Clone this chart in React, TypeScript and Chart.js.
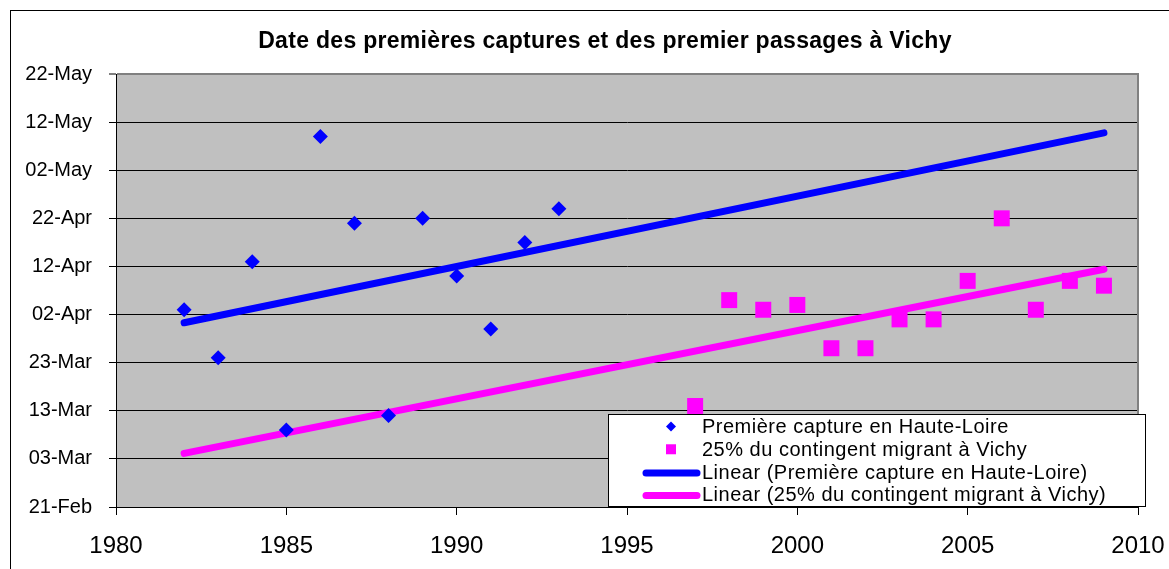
import React, { useEffect, useRef } from 'react';
import { Chart, registerables } from 'chart.js';

Chart.register(...registerables);

// ---- Data (y values = day of year, non-leap year: 52 = 21-Feb) ----
const TITLE = 'Date des premières captures et des premier passages à Vichy';
const seriesNames = ['Première capture en Haute-Loire', '25% du contingent migrant à Vichy'];

const captureYears = [1982, 1983, 1984, 1985, 1986, 1987, 1988, 1989, 1990, 1991, 1992, 1993];
const captureDays = [93, 83, 103, 68, 129, 111, 71, 112, 100, 89, 107, 114];

const vichyYears = [1997, 1998, 1999, 2000, 2001, 2002, 2003, 2004, 2005, 2006, 2007, 2008, 2009];
const vichyDays = [73, 95, 93, 94, 85, 85, 91, 91, 99, 112, 93, 99, 98];

const yTickDays = [52, 62, 72, 82, 92, 102, 112, 122, 132, 142];
const yTickLabels = ['21-Feb', '03-Mar', '13-Mar', '23-Mar', '02-Apr', '12-Apr', '22-Apr', '02-May', '12-May', '22-May'];
const xTickYears = [1980, 1985, 1990, 1995, 2000, 2005, 2010];

// ---- Styles ----
const BLUE = '#0000FF';
const PINK = '#FF00FF';
const FONT = '"Liberation Sans", Arial, sans-serif';

function linearFit(xs: number[], ys: number[]) {
  const n = xs.length;
  const mx = xs.reduce((a, b) => a + b, 0) / n;
  const my = ys.reduce((a, b) => a + b, 0) / n;
  let sxy = 0;
  let sxx = 0;
  for (let i = 0; i < n; i++) {
    sxy += (xs[i] - mx) * (ys[i] - my);
    sxx += (xs[i] - mx) * (xs[i] - mx);
  }
  const slope = sxy / sxx;
  const intercept = my - slope * mx;
  return (x: number) => intercept + slope * x;
}

export default function App() {
  const canvasRef = useRef<HTMLCanvasElement | null>(null);

  useEffect(() => {
    const canvas = canvasRef.current;
    if (!canvas) return;

    const allYears = [...captureYears, ...vichyYears];
    const trendX0 = Math.min(...allYears);
    const trendX1 = Math.max(...allYears);
    const fitA = linearFit(captureYears, captureDays);
    const fitB = linearFit(vichyYears, vichyDays);

    const decorPlugin = {
      id: 'decor',
      beforeDraw(chart: any) {
        const { ctx, chartArea } = chart;
        ctx.save();
        ctx.fillStyle = '#FFFFFF';
        ctx.fillRect(0, 0, chart.width, chart.height);
        // outer chart border
        ctx.strokeStyle = '#000000';
        ctx.lineWidth = 1;
        ctx.strokeRect(10.5, 10.5, chart.width + 50, chart.height + 50);
        // plot area fill
        ctx.fillStyle = '#C0C0C0';
        ctx.fillRect(chartArea.left, chartArea.top, chartArea.right - chartArea.left, chartArea.bottom - chartArea.top);
        ctx.restore();
      },
      afterDraw(chart: any) {
        const { ctx, chartArea } = chart;
        ctx.save();
        // right plot border
        ctx.strokeStyle = '#808080';
        ctx.lineWidth = 2;
        ctx.beginPath();
        ctx.moveTo(chartArea.right, chartArea.top - 1);
        ctx.lineTo(chartArea.right, chartArea.bottom);
        ctx.stroke();

        // title
        ctx.fillStyle = '#000000';
        ctx.font = `bold 23px ${FONT}`;
        ctx.textAlign = 'center';
        ctx.textBaseline = 'alphabetic';
        (ctx as any).letterSpacing = '0.3px';
        ctx.fillText(TITLE, 605, 48);

        // legend
        const L = 608, T = 414, R = 1146, B = 507;
        ctx.fillStyle = '#FFFFFF';
        ctx.fillRect(L, T, R - L, B - T);
        ctx.strokeStyle = '#000000';
        ctx.lineWidth = 1;
        ctx.strokeRect(L + 0.5, T + 0.5, R - L - 1, B - T - 1);

        const entries = [
          { kind: 'diamond', color: BLUE, text: seriesNames[0] },
          { kind: 'square', color: PINK, text: seriesNames[1] },
          { kind: 'line', color: BLUE, text: `Linear (${seriesNames[0]})` },
          { kind: 'line', color: PINK, text: `Linear (${seriesNames[1]})` },
        ];
        const step = 22.67;
        entries.forEach((e, i) => {
          const base = 433.3 + i * step;
          const cy = base - 6.7;
          ctx.fillStyle = e.color;
          if (e.kind === 'diamond') {
            ctx.beginPath();
            ctx.moveTo(671, cy - 5);
            ctx.lineTo(676, cy);
            ctx.lineTo(671, cy + 5);
            ctx.lineTo(666, cy);
            ctx.closePath();
            ctx.fill();
          } else if (e.kind === 'square') {
            ctx.fillRect(666, cy - 5, 10, 10);
          } else {
            ctx.strokeStyle = e.color;
            ctx.lineWidth = 7;
            ctx.lineCap = 'round';
            ctx.beginPath();
            ctx.moveTo(646, cy + 1);
            ctx.lineTo(697, cy + 1);
            ctx.stroke();
          }
          ctx.fillStyle = '#000000';
          ctx.font = `20px ${FONT}`;
          ctx.textAlign = 'left';
          ctx.textBaseline = 'alphabetic';
          (ctx as any).letterSpacing = '0.5px';
          ctx.fillText(e.text, 702, base);
        });
        (ctx as any).letterSpacing = '0px';
        ctx.restore();
      },
    };

    const chart = new Chart(canvas, {
      type: 'scatter',
      data: {
        datasets: [
          {
            label: seriesNames[0],
            data: captureYears.map((x, i) => ({ x, y: captureDays[i] })),
            pointStyle: 'rectRot',
            pointRadius: 7.5,
            backgroundColor: BLUE,
            borderWidth: 0,
            showLine: false,
          },
          {
            label: seriesNames[1],
            data: vichyYears.map((x, i) => ({ x, y: vichyDays[i] })),
            pointStyle: 'rect',
            pointRadius: 11.3,
            backgroundColor: PINK,
            borderWidth: 0,
            showLine: false,
          },
          {
            label: `Linear (${seriesNames[0]})`,
            data: [
              { x: trendX0, y: fitA(trendX0) },
              { x: trendX1, y: fitA(trendX1) },
            ],
            showLine: true,
            pointRadius: 0,
            borderColor: BLUE,
            borderWidth: 7,
            borderCapStyle: 'round',
          },
          {
            label: `Linear (${seriesNames[1]})`,
            data: [
              { x: trendX0, y: fitB(trendX0) },
              { x: trendX1, y: fitB(trendX1) },
            ],
            showLine: true,
            pointRadius: 0,
            borderColor: PINK,
            borderWidth: 7,
            borderCapStyle: 'round',
          },
        ],
      } as any,
      options: {
        responsive: false,
        animation: false,
        devicePixelRatio: 1,
        layout: { padding: { left: 0, top: 74, right: 31, bottom: 0 } },
        plugins: {
          legend: { display: false },
          title: { display: false },
          tooltip: { enabled: false },
        },
        scales: {
          x: {
            type: 'linear',
            min: xTickYears[0],
            max: xTickYears[xTickYears.length - 1],
            afterBuildTicks: (axis: any) => {
              axis.ticks = xTickYears.map((v) => ({ value: v }));
            },
            afterFit: (axis: any) => {
              axis.height = 62;
              axis.paddingLeft = 0;
              axis.paddingRight = 0;
            },
            ticks: {
              color: '#000000',
              font: { family: FONT, size: 24 },
              padding: 17,
              maxRotation: 0,
              callback: (v: any) => String(v),
            },
            grid: {
              drawOnChartArea: false,
              drawTicks: true,
              tickLength: 8,
              tickColor: '#000000',
              tickWidth: 1,
            },
            border: { color: '#000000', width: 1 },
          },
          y: {
            type: 'linear',
            min: yTickDays[0],
            max: yTickDays[yTickDays.length - 1],
            afterBuildTicks: (axis: any) => {
              axis.ticks = yTickDays.map((v) => ({ value: v }));
            },
            afterFit: (axis: any) => {
              axis.width = 116;
              axis.paddingTop = 0;
              axis.paddingBottom = 0;
            },
            ticks: {
              color: '#000000',
              font: { family: FONT, size: 20 },
              padding: 17,
              callback: (v: any) => yTickLabels[yTickDays.indexOf(Number(v))] ?? '',
            },
            grid: {
              color: (c: any) => (c.tick && c.tick.value === yTickDays[yTickDays.length - 1] ? '#808080' : '#000000'),
              lineWidth: (c: any) => (c.tick && c.tick.value === yTickDays[yTickDays.length - 1] ? 2 : 1),
              drawTicks: true,
              tickLength: 7,
              tickColor: '#000000',
              tickWidth: 1,
            },
            border: { color: '#000000', width: 1 },
          },
        },
      } as any,
      plugins: [decorPlugin],
    });

    return () => {
      chart.destroy();
    };
  }, []);

  return (
    <div style={{ position: 'fixed', left: 0, top: 0, width: 1169, height: 569, overflow: 'hidden', background: '#FFFFFF' }}>
      <canvas ref={canvasRef} width={1169} height={569} style={{ display: 'block', width: 1169, height: 569 }} />
    </div>
  );
}
